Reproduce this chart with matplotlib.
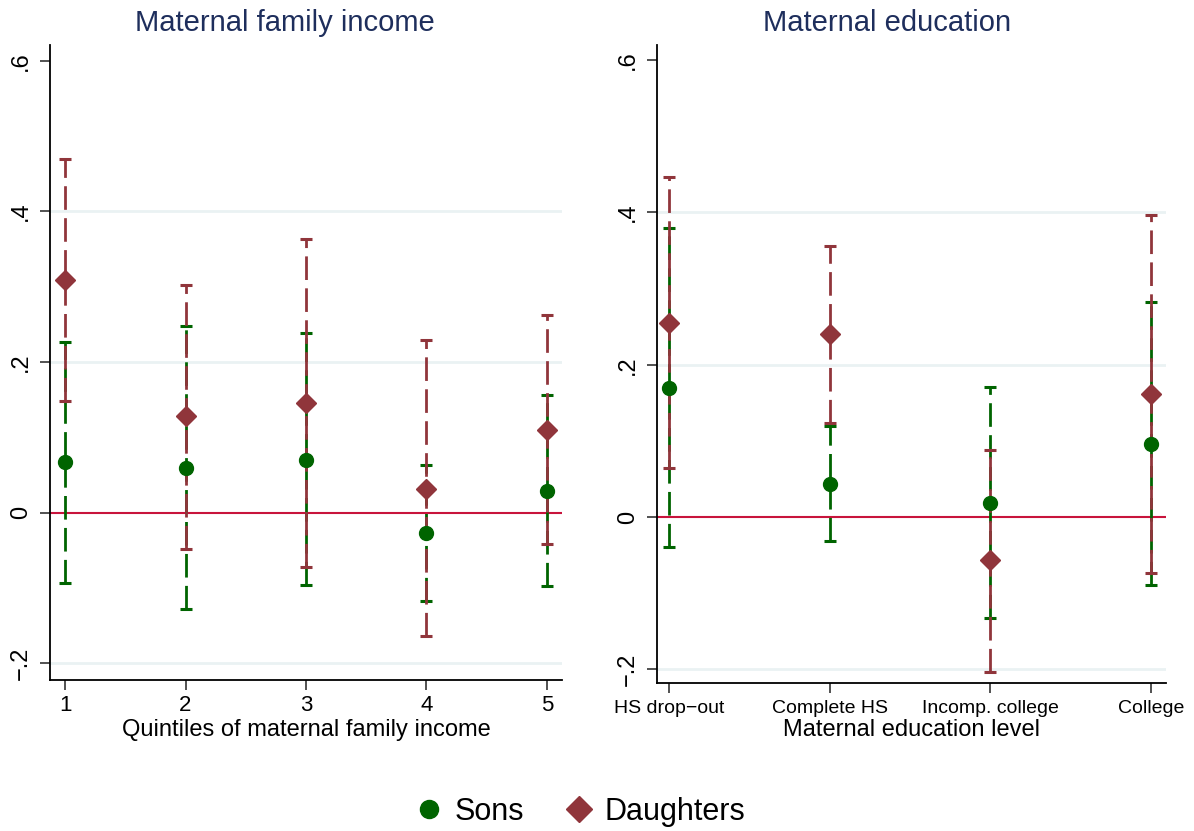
import matplotlib
matplotlib.use("Agg")
import matplotlib.pyplot as plt
from matplotlib.lines import Line2D
import numpy as np

plt.rcParams['font.family'] = ['Liberation Sans', 'DejaVu Sans']
plt.rcParams['lines.scale_dashes'] = False

# left panel: quintiles of maternal family income
quintiles = [1, 2, 3, 4, 5]
sons_inc = [0.067, 0.060, 0.070, -0.027, 0.029]
sons_inc_lo = [-0.093, -0.128, -0.096, -0.117, -0.097]
sons_inc_hi = [0.227, 0.248, 0.239, 0.063, 0.157]
dau_inc = [0.309, 0.128, 0.146, 0.032, 0.110]
dau_inc_lo = [0.149, -0.048, -0.072, -0.164, -0.041]
dau_inc_hi = [0.469, 0.302, 0.364, 0.229, 0.262]

# right panel: maternal education level
edu_levels = ["HS drop\u2212out", "Complete HS", "Incomp. college", "College"]
sons_edu = [0.169, 0.0435, 0.019, 0.096]
sons_edu_lo = [-0.040, -0.032, -0.133, -0.089]
sons_edu_hi = [0.379, 0.119, 0.171, 0.282]
dau_edu = [0.255, 0.240, -0.057, 0.162]
dau_edu_lo = [0.064, 0.124, -0.203, -0.073]
dau_edu_hi = [0.447, 0.356, 0.088, 0.397]

yticks = [-0.2, 0, 0.2, 0.4, 0.6]
ytick_labels = ["\u2212.2", "0", ".2", ".4", ".6"]

green = "#006400"
cranberry = "#90353B"
navy = "#1E2E5C"
grid_col = "#EAF2F3"
zero_col = "#C8143C"


def draw_series(ax, x, y, lo, hi, color):
    y = np.array(y)
    err = [y - np.array(lo), np.array(hi) - y]
    eb = ax.errorbar(x, y, yerr=err, fmt="none", ecolor=color,
                     elinewidth=2.0, capsize=4.5, capthick=2.2, zorder=3)
    for lc in eb[2]:
        lc.set_linestyle((0, (17, 6)))


def style_axes(ax, ylim):
    ax.set_ylim(*ylim)
    ax.set_yticks(yticks)
    ax.set_yticklabels(ytick_labels, rotation=90, va="center")
    for v in [-0.2, 0.2, 0.4]:
        ax.axhline(v, color=grid_col, lw=2, zorder=0)
    ax.axhline(0, color=zero_col, lw=1.5, zorder=2)
    for s in ["top", "right"]:
        ax.spines[s].set_visible(False)
    for s in ["left", "bottom"]:
        ax.spines[s].set_linewidth(1.3)
    ax.tick_params(axis="both", length=7, width=1.2, color="#333333")
    ax.tick_params(axis="y", labelsize=17, pad=6)


fig = plt.figure(figsize=(11.94, 8.31), dpi=100)
ax1 = fig.add_axes([50 / 1194, 1 - 680 / 831, 512 / 1194, 635 / 831])
ax2 = fig.add_axes([657 / 1194, 1 - 683 / 831, 509 / 1194, 638 / 831])

panels = [
    (ax1, quintiles, (sons_inc, sons_inc_lo, sons_inc_hi),
     (dau_inc, dau_inc_lo, dau_inc_hi)),
    (ax2, list(range(len(edu_levels))), (sons_edu, sons_edu_lo, sons_edu_hi),
     (dau_edu, dau_edu_lo, dau_edu_hi)),
]

for ax, x, sons, dau in panels:
    draw_series(ax, x, *sons, green)
    draw_series(ax, x, *dau, cranberry)
    ax.plot(x, sons[0], "o", color=green, ms=10, zorder=5)
    ax.plot(x, dau[0], "D", color=cranberry, ms=10, zorder=6)

style_axes(ax1, (-0.222, 0.621))
ax1.set_xlim(0.875, 5.125)
ax1.set_xticks(quintiles)
ax1.tick_params(axis="x", labelsize=16, pad=4)
ax1.set_xlabel("Quintiles of maternal family income", fontsize=17, labelpad=2)

style_axes(ax2, (-0.218, 0.620))
ax2.set_xlim(-0.075, 3.095)
ax2.set_xticks(range(len(edu_levels)))
ax2.set_xticklabels(edu_levels)
ax2.tick_params(axis="x", labelsize=14, pad=5)
ax2.set_xlabel("Maternal education level", fontsize=17, labelpad=2)

fig.text(285 / 1194, 1 - 23 / 831, "Maternal family income", fontsize=21,
         color=navy, ha="center", va="center")
fig.text(887 / 1194, 1 - 23 / 831, "Maternal education", fontsize=21,
         color=navy, ha="center", va="center")

handles = [Line2D([], [], marker="o", ls="none", color=green, ms=13),
           Line2D([], [], marker="D", ls="none", color=cranberry, ms=13)]
fig.legend(handles, ["Sons", "Daughters"], loc="center",
           bbox_to_anchor=(581 / 1194, 1 - 812 / 831), ncol=2, frameon=False,
           fontsize=22, handlelength=0.8, handletextpad=0.45,
           columnspacing=1.4)

fig.savefig("out.png", dpi=100)
